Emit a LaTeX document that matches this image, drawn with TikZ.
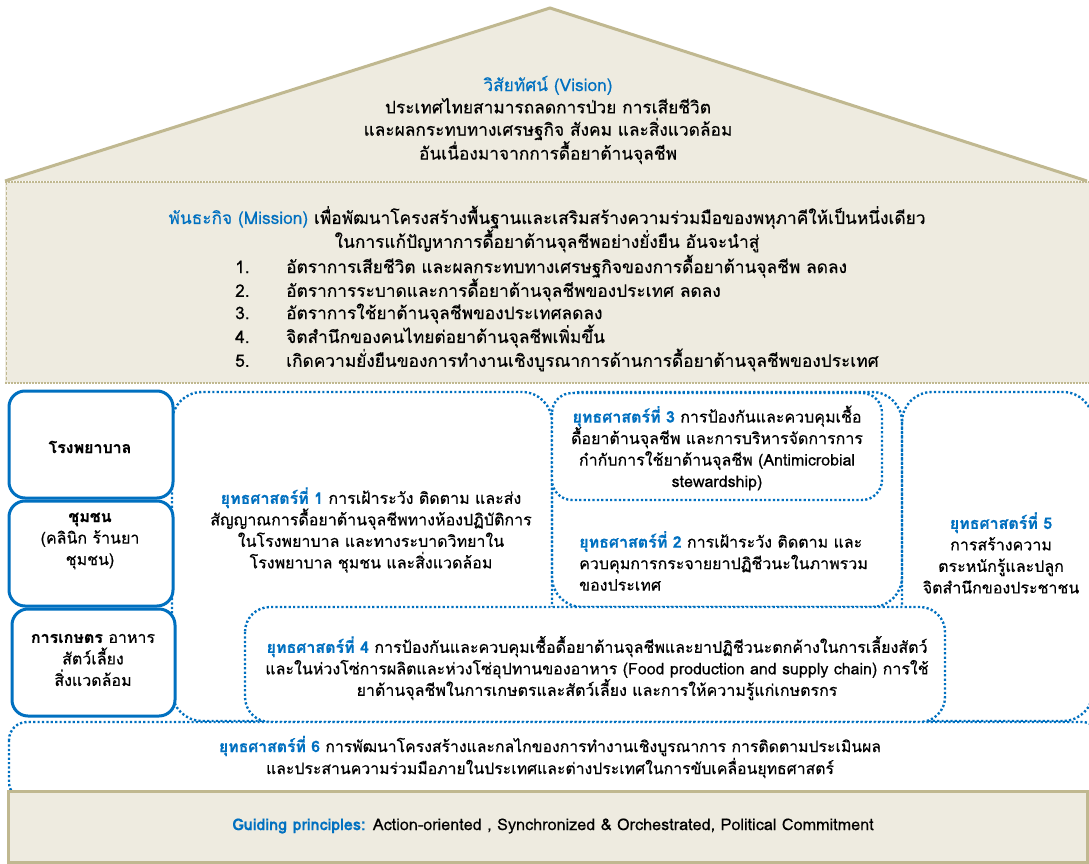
\documentclass[tikz,border=0pt]{standalone}
\usepackage{fontspec}
\setmainfont[Script=Thai,FakeBold=0.4]{Loma}
\definecolor{blu}{HTML}{0070C0}
\definecolor{beigefill}{HTML}{EEEBE0}
\definecolor{beigeline}{HTML}{C0B890}
\tikzset{
  dotbox/.style={draw=blu, line width=2.4pt, dash pattern=on 2.2pt off 2.2pt, rounded corners=#1},
  solidbox/.style={draw=blu, line width=3pt, rounded corners=16pt, fill=white},
  txt/.style={align=center, inner sep=0pt, font=\fontsize{16}{21.5}\selectfont},
  ctxt/.style={align=center, inner sep=0pt, font=\fontsize{17.3}{22.3}\selectfont},
}
\newcommand{\hd}[1]{\textcolor{blu}{\textbf{#1}}}
\newcommand{\num}[1]{\makebox[51pt][l]{#1}}
\begin{document}
\begin{tikzpicture}[x=1pt,y=-1pt]
\useasboundingbox (0,0) rectangle (1089,864);
\fill[white] (0,0) rectangle (1089,864);
% roof
\draw[fill=beigefill, draw=beigeline, line width=3pt, line join=miter] (5,181) -- (550,8) -- (1087,181);
% mission block
\fill[beigefill] (5,182) rectangle (1089,383);
\draw[beigeline, line width=2pt, dash pattern=on 1.5pt off 1.5pt] (5,182) -- (1089,182);
\draw[beigeline, line width=2pt, dash pattern=on 1.5pt off 1.5pt] (5,383) -- (1089,383);
\draw[beigeline, line width=0.8pt, dash pattern=on 3pt off 2pt] (6,182) -- (6,383);
% strategy boxes
\draw[dotbox=30pt] (172,392) rectangle (552,721);
\draw[dotbox=30pt] (552,392) rectangle (902,607);
\draw[dotbox=30pt] (902,392) rectangle (1093,721);
\draw[dotbox=20pt, fill=white] (552,393) rectangle (882,500);
\draw[dotbox=25pt, fill=white] (245,607) rectangle (945,722);
\draw[dotbox=18pt, fill=white] (9,722) rectangle (1100,800);
% guiding block
\draw[fill=beigefill, draw=beigeline, line width=3pt] (8,791) rectangle (1087,862);
% left solid boxes
\draw[solidbox] (9,391) rectangle (173,498);
\draw[solidbox] (9,501) rectangle (173,606);
\draw[solidbox] (12,609) rectangle (175,716);

% texts
\node[ctxt] (vision) at (548,120) {\textcolor{blu}{วิสัยทัศน์ (Vision)}\\
ประเทศไทยสามารถลดการป่วย การเสียชีวิต\\
และผลกระทบทางเศรษฐกิจ สังคม และสิ่งแวดล้อม\\
อันเนื่องมาจากการดื้อยาต้านจุลชีพ};
\node[ctxt] (mission) at (547,229) {\textcolor{blu}{พันธะกิจ (Mission)} เพื่อพัฒนาโครงสร้างพื้นฐานและเสริมสร้างความร่วมมือของพหุภาคีให้เป็นหนึ่งเดียว\\
ในการแก้ปัญหาการดื้อยาต้านจุลชีพอย่างยั่งยืน อันจะนำสู่};
\node[ctxt, anchor=west, align=left] (mlist) at (235,313) {%
\num{1.}อัตราการเสียชีวิต และผลกระทบทางเศรษฐกิจของการดื้อยาต้านจุลชีพ ลดลง\\
\num{2.}อัตราการระบาดและการดื้อยาต้านจุลชีพของประเทศ ลดลง\\
\num{3.}อัตราการใช้ยาต้านจุลชีพของประเทศลดลง\\
\num{4.}จิตสำนึกของคนไทยต่อยาต้านจุลชีพเพิ่มขึ้น\\
\num{5.}เกิดความยั่งยืนของการทำงานเชิงบูรณาการด้านการดื้อยาต้านจุลชีพของประเทศ};

\node[txt] (hosp) at (90,447) {\textbf{โรงพยาบาล}};
\node[txt] (comm) at (90,541) {\textbf{ชุมชน}\\(คลินิก ร้านยา\\ชุมชน)};
\node[txt] (agri) at (93,660) {\textbf{การเกษตร} อาหาร\\สัตว์เลี้ยง\\สิ่งแวดล้อม};

\node[txt] (s1) at (371,530) {\hd{ยุทธศาสตร์ที่ 1} การเฝ้าระวัง ติดตาม และส่ง\\
สัญญาณการดื้อยาต้านจุลชีพทางห้องปฏิบัติการ\\
ในโรงพยาบาล และทางระบาดวิทยาใน\\
โรงพยาบาล ชุมชน และสิ่งแวดล้อม};
\node[txt] (s3) at (717,448) {\hd{ยุทธศาสตร์ที่ 3} การป้องกันและควบคุมเชื้อ\\
ดื้อยาต้านจุลชีพ และการบริหารจัดการการ\\
กำกับการใช้ยาต้านจุลชีพ (Antimicrobial\\
stewardship)};
\node[txt, anchor=west, align=left] (s2) at (579,561) {\hd{ยุทธศาสตร์ที่ 2} การเฝ้าระวัง ติดตาม และ\\
ควบคุมการกระจายยาปฏิชีวนะในภาพรวม\\
ของประเทศ};
\node[txt] (s5) at (1001,553) {\hd{ยุทธศาสตร์ที่ 5}\\การสร้างความ\\ตระหนักรู้และปลูก\\จิตสำนึกของประชาชน};
\node[txt] (s4) at (597,668) {\hd{ยุทธศาสตร์ที่ 4} การป้องกันและควบคุมเชื้อดื้อยาต้านจุลชีพและยาปฏิชีวนะตกค้างในการเลี้ยงสัตว์\\
และในห่วงโซ่การผลิตและห่วงโซ่อุปทานของอาหาร (Food production and supply chain) การใช้\\
ยาต้านจุลชีพในการเกษตรและสัตว์เลี้ยง และการให้ความรู้แก่เกษตรกร};
\node[txt, font=\fontsize{15.8}{22}\selectfont] (s6) at (550,757) {\hd{ยุทธศาสตร์ที่ 6} การพัฒนาโครงสร้างและกลไกของการทำงานเชิงบูรณาการ การติดตามประเมินผล\\
และประสานความร่วมมือภายในประเทศและต่างประเทศในการขับเคลื่อนยุทธศาสตร์};
\node[txt, font=\fontsize{16.2}{22}\selectfont] (guide) at (553,826) {\hd{Guiding principles:} Action-oriented , Synchronized \& Orchestrated, Political Commitment};
\end{tikzpicture}
\end{document}
